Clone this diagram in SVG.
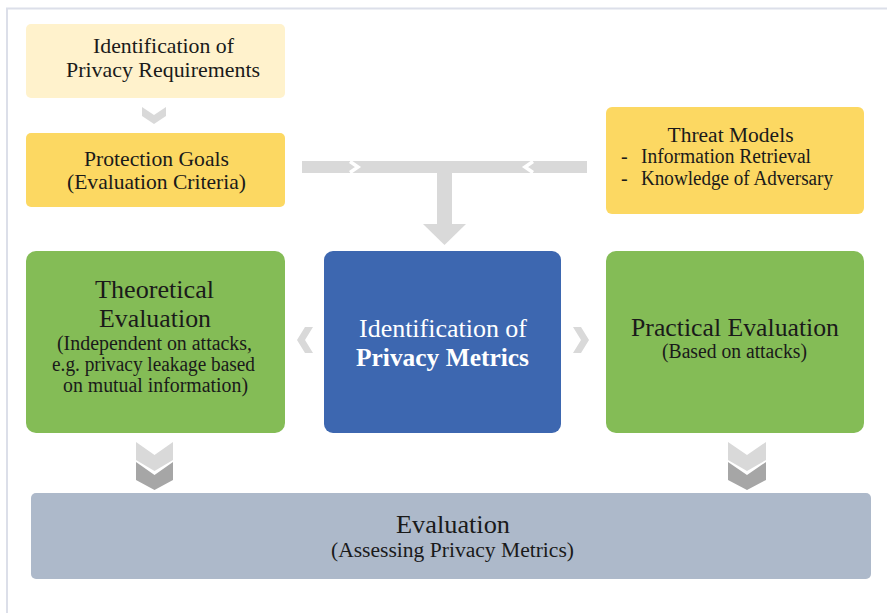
<svg xmlns="http://www.w3.org/2000/svg" width="887" height="613" viewBox="0 0 887 613">
  <style>
    text { font-family: "Liberation Serif", "Times New Roman", serif; fill: #1a1a1a; }
    .t20 { font-size: 21px; }
    .t19 { font-size: 20px; }
    .t24 { font-size: 25px; }
    .mid { text-anchor: middle; }
    .white { fill: #ffffff; }
    .bold { font-weight: bold; }
    .c1 { fill: #d9d9d9; }
    .c2 { fill: #a6a6a6; }
  </style>
  <rect x="0" y="0" width="887" height="613" fill="#ffffff"/>
  <rect x="7" y="8.5" width="900" height="700" fill="none" stroke="#dcdfe9" stroke-width="2"/>

  <g id="connectors">
    <!-- small chevron between box1 and box2 -->
    <polygon class="c1" points="142,107 154,115 166,107 166,116 154,124 142,116"/>
    <!-- horizontal bar joining protection goals and threat models -->
    <rect class="c1" x="302" y="161" width="285" height="12"/>
    <polyline points="350,161.5 358,167 350,172.5" fill="none" stroke="#ffffff" stroke-width="3.5"/>
    <polyline points="533,161.5 525,167 533,172.5" fill="none" stroke="#ffffff" stroke-width="3.5"/>
    <rect class="c1" x="437" y="173" width="15" height="52"/>
    <polygon class="c1" points="423,224 466,224 444.5,245"/>
    <!-- side chevrons -->
    <polygon class="c1" points="305,327 313,327 305,340 313,353 305,353 297,340"/>
    <polygon class="c1" points="581,327 573,327 581,340 573,353 581,353 589,340"/>
    <!-- double chevrons left -->
    <polygon class="c1" points="136,442 154.5,455 173,442 173,460 154.5,471 136,460"/>
    <polygon class="c2" points="136,462 154.5,475 173,462 173,480 154.5,490 136,480"/>
    <!-- double chevrons right -->
    <polygon class="c1" points="728,442 747,455 766,442 766,460 747,471 728,460"/>
    <polygon class="c2" points="728,462 747,475 766,462 766,480 747,490 728,480"/>
  </g>

  <g id="privacy-requirements">
    <rect x="26" y="24" width="259" height="74" rx="5" fill="#fff2cc"/>
    <text class="t20 mid" x="163.5" y="53" textLength="141" lengthAdjust="spacingAndGlyphs">Identification of</text>
    <text class="t20 mid" x="163" y="77" textLength="194" lengthAdjust="spacingAndGlyphs">Privacy Requirements</text>
  </g>

  <g id="protection-goals">
    <rect x="26" y="133" width="259" height="74" rx="5" fill="#fcd862"/>
    <text class="t20 mid" x="156.5" y="166" textLength="145" lengthAdjust="spacingAndGlyphs">Protection Goals</text>
    <text class="t20 mid" x="156.5" y="189" textLength="179" lengthAdjust="spacingAndGlyphs">(Evaluation Criteria)</text>
  </g>

  <g id="threat-models">
    <rect x="606" y="107" width="258" height="107" rx="6" fill="#fcd862"/>
    <text class="t19 mid" x="730.5" y="142" textLength="126" lengthAdjust="spacingAndGlyphs">Threat Models</text>
    <text class="t19" x="621" y="163">-</text>
    <text class="t19" x="641" y="163" textLength="170" lengthAdjust="spacingAndGlyphs">Information Retrieval</text>
    <text class="t19" x="621" y="185">-</text>
    <text class="t19" x="641" y="185" textLength="192" lengthAdjust="spacingAndGlyphs">Knowledge of Adversary</text>
  </g>

  <g id="theoretical-evaluation">
    <rect x="26" y="251" width="259" height="182" rx="10" fill="#84bc56"/>
    <text class="t24 mid" x="154.5" y="298" textLength="119" lengthAdjust="spacingAndGlyphs">Theoretical</text>
    <text class="t24 mid" x="155" y="327" textLength="112" lengthAdjust="spacingAndGlyphs">Evaluation</text>
    <text class="t19 mid" x="154.5" y="350" textLength="195" lengthAdjust="spacingAndGlyphs">(Independent on attacks,</text>
    <text class="t19 mid" x="153.5" y="371" textLength="203" lengthAdjust="spacingAndGlyphs">e.g. privacy leakage based</text>
    <text class="t19 mid" x="155.5" y="392" textLength="185" lengthAdjust="spacingAndGlyphs">on mutual information)</text>
  </g>

  <g id="privacy-metrics">
    <rect x="324" y="251" width="237" height="182" rx="9" fill="#3d67b0"/>
    <text class="t24 mid white" x="443" y="337" textLength="168" lengthAdjust="spacingAndGlyphs">Identification of</text>
    <text class="t24 mid white bold" x="442.5" y="366" textLength="173" lengthAdjust="spacingAndGlyphs">Privacy Metrics</text>
  </g>

  <g id="practical-evaluation">
    <rect x="606" y="251" width="258" height="182" rx="10" fill="#84bc56"/>
    <text class="t24 mid" x="735" y="336" textLength="208" lengthAdjust="spacingAndGlyphs">Practical Evaluation</text>
    <text class="t19 mid" x="734.5" y="358" textLength="145" lengthAdjust="spacingAndGlyphs">(Based on attacks)</text>
  </g>

  <g id="evaluation">
    <rect x="31" y="493" width="840" height="86" rx="5" fill="#adb9ca"/>
    <text class="t24 mid" x="453" y="533" textLength="114" lengthAdjust="spacingAndGlyphs">Evaluation</text>
    <text class="t19 mid" x="452.5" y="557" textLength="243" lengthAdjust="spacingAndGlyphs">(Assessing Privacy Metrics)</text>
  </g>
</svg>
